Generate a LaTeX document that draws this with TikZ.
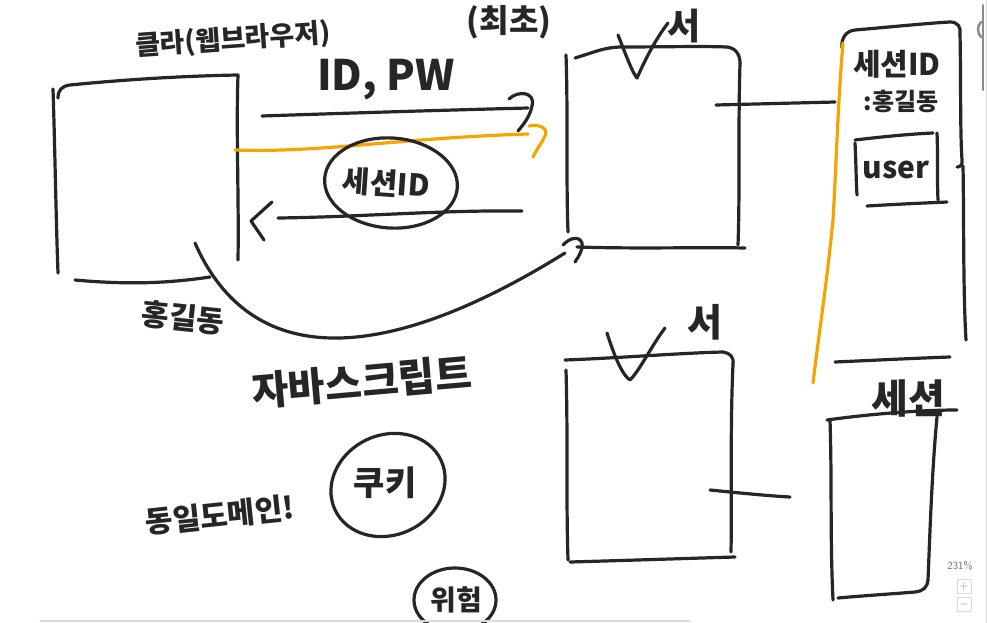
\documentclass[tikz,border=0pt]{standalone}
\usepackage{fontspec}
\newfontfamily\kr{Noto Sans CJK KR}
\usetikzlibrary{shapes.geometric}
\definecolor{ink}{HTML}{262626}
\definecolor{marker}{HTML}{F5A400}
\definecolor{uigray}{HTML}{8A8A8A}
\definecolor{uiline}{HTML}{DADADA}
\begin{document}
\begin{tikzpicture}[x=1pt,y=-1pt,line cap=round,line join=round,
  pen/.style={line width=3.2pt,draw=ink},
  hi/.style={line width=3.2pt,draw=marker},
  hand/.style={font=\kr\bfseries\fontsize{#1}{#1}\selectfont,text=ink,inner sep=0pt},
  bubble/.style={ellipse,pen,inner sep=0pt}]
  \useasboundingbox[fill=white] (0,0) rectangle (987,623);

  % -=-=-=-=- CLIENT -=-=-=-=-
  \draw[pen] (53,89) .. controls (55,150) and (56,220) .. (58,273);
  \draw[pen] (58,98) .. controls (58,90) and (62,86) .. (70,85) .. controls (120,80) and (180,76) .. (238,75);
  \draw[pen] (238,75) .. controls (236,130) and (239,200) .. (238,260);
  \draw[pen] (75,280) .. controls (130,285) and (170,283) .. (210,277);
  \node[hand=27,rotate=4] (client) at (233,40) {클라(웹브라우저)};
  \node[hand=30,rotate=-6] (hong) at (183,318) {홍길동};

  % -=-=-=-=- REQUEST / RESPONSE -=-=-=-=-
  \node[hand=32] (first) at (509,22) {(최초)};
  \node[hand=42] (idpw) at (386,80) {ID, PW};
  \coordinate (pwS) at (262,116);
  \coordinate (pwE) at (528,108);
  \draw[pen] (pwS) .. controls (350,113) and (450,110) .. (pwE);
  \draw[pen] (509,99) .. controls (518,90) and (536,92) .. (532,106) .. controls (530,116) and (524,124) .. (518,131);

  \coordinate (mkS) at (235,150);
  \coordinate (mkE) at (528,134);
  \draw[hi] (mkS) .. controls (320,153) and (400,138) .. (mkE);
  \draw[hi] (529,126) .. controls (540,124) and (550,128) .. (544,138) .. controls (540,145) and (536,151) .. (533,157);

  \node[bubble,minimum width=133,minimum height=90,rotate=-4] (sid) at (391,183) {};
  \node[hand=30,rotate=-4] (sidtext) at (386,183) {세션ID};
  \coordinate (backS) at (522,211);
  \coordinate (backE) at (278,218);
  \draw[pen] (backS) .. controls (440,210) and (360,217) .. (backE);
  \draw[pen] (272,202) -- (251,221) -- (264,240);

  \coordinate (curS) at (195,243);
  \coordinate (curE) at (565,253);
  \draw[pen] (curS) .. controls (250,368) and (380,368) .. (curE);
  \draw[pen] (563,245) .. controls (575,232) and (592,238) .. (575,262);

  % -=-=-=-=- NOTES -=-=-=-=-
  \node[hand=40,rotate=5] (js) at (362,382) {자바스크립트};
  \node[hand=30,rotate=6] (samedom) at (220,515) {동일도메인!};
  \node[bubble,minimum width=117,minimum height=100,rotate=25] (cookie) at (388,485) {};
  \node[hand=34] (cookietext) at (385,483) {쿠키};
  \node[bubble,minimum width=82,minimum height=64] (danger) at (455,600) {};
  \node[hand=28] (dangertext) at (456,600) {위험};

  % -=-=-=-=- SERVER 1 -=-=-=-=-
  \draw[pen] (566,55) .. controls (568,110) and (566,180) .. (568,232);
  \draw[pen] (575,58) .. controls (595,52) and (605,47) .. (622,47) .. controls (660,47) and (700,46) .. (727,47) .. controls (736,48) and (740,55) .. (740,63);
  \draw[pen] (740,63) .. controls (738,130) and (740,190) .. (738,245);
  \draw[pen] (577,247) .. controls (640,249) and (700,247) .. (745,248);
  \draw[pen] (618,35) .. controls (626,55) and (632,72) .. (637,78) .. controls (645,60) and (655,40) .. (668,23);
  \node[hand=36] (srv1) at (684,26) {서};

  % -=-=-=-=- SERVER 2 -=-=-=-=-
  \draw[pen] (566,370) .. controls (568,440) and (566,500) .. (568,560);
  \draw[pen] (565,360) .. controls (620,358) and (680,353) .. (723,352) .. controls (730,353) and (734,357) .. (733,364);
  \draw[pen] (733,364) .. controls (730,430) and (732,500) .. (731,552);
  \draw[pen] (570,562) .. controls (640,560) and (700,558) .. (735,557);
  \draw[pen] (607,333) .. controls (614,355) and (622,375) .. (630,380) .. controls (640,370) and (652,345) .. (665,328);
  \node[hand=38] (srv2) at (705,322) {서};

  % -=-=-=-=- SESSION STORE -=-=-=-=-
  \draw[pen] (842,48) .. controls (841,38) and (846,31) .. (855,30) .. controls (890,27) and (930,23) .. (950,22) .. controls (958,22) and (961,27) .. (960,34);
  \draw[pen] (960,34) .. controls (961,80) and (960,130) .. (962,160) .. controls (963,165) and (960,167) .. (957,167);
  \draw[pen] (963,166) .. controls (964,220) and (963,290) .. (966,340);
  \draw[hi] (843,43) .. controls (838,100) and (836,170) .. (833,220) .. controls (826,290) and (818,340) .. (813,383);
  \draw[pen] (835,362) .. controls (880,360) and (920,358) .. (950,357);
  \node[hand=30] (sidkey) at (897,64) {세션ID};
  \node[hand=24] (sidval) at (901,101) {:홍길동};
  \draw[pen] (855,140) .. controls (880,137) and (910,134) .. (933,133);
  \draw[pen] (855,143) .. controls (856,160) and (856,180) .. (857,195);
  \draw[pen] (937,133) .. controls (938,155) and (937,180) .. (938,200);
  \draw[pen] (867,206) .. controls (900,204) and (925,203) .. (947,202);
  \node[hand=30] (user) at (896,170) {user};
  \coordinate (l1S) at (716,105);
  \coordinate (l1E) at (835,102);
  \draw[pen] (l1S) -- (l1E);

  % -=-=-=-=- SESSION -=-=-=-=-
  \draw[pen] (827,420) .. controls (870,414) and (920,410) .. (957,410);
  \draw[pen] (830,420) .. controls (832,480) and (830,540) .. (833,600);
  \draw[pen] (937,417) .. controls (932,470) and (930,530) .. (928,580) .. controls (927,588) and (923,591) .. (915,592) .. controls (890,594) and (860,596) .. (838,598);
  \node[hand=40] (sess) at (908,398) {세션};
  \coordinate (l2S) at (710,490);
  \coordinate (l2E) at (790,497);
  \draw[pen] (l2S) .. controls (740,493) and (770,496) .. (l2E);

  % -=-=-=-=- VIEWER -=-=-=-=-
  \draw[uiline,line width=1.2pt] (40,621) -- (690,621);
  \draw[uiline,line width=1pt] (986,0) -- (986,623);
  \draw[uigray,line width=2pt] (983,5) -- (983,90);
  \draw[uigray,line width=2.4pt] (981,22) .. controls (977,26) and (977,33) .. (981,37);
  \node[font=\sffamily\fontsize{11}{11}\selectfont,text=uigray!80!black] (zoomlvl) at (960,566) {231\%};
  \node[draw=uiline,line width=0.8pt,minimum size=14,inner sep=0pt,font=\sffamily\fontsize{12}{12}\selectfont,text=uigray] (zin) at (964,586) {+};
  \node[draw=uiline,line width=0.8pt,minimum size=14,inner sep=0pt,font=\sffamily\fontsize{12}{12}\selectfont,text=uigray] (zout) at (964,604) {$-$};
\end{tikzpicture}
\end{document}
